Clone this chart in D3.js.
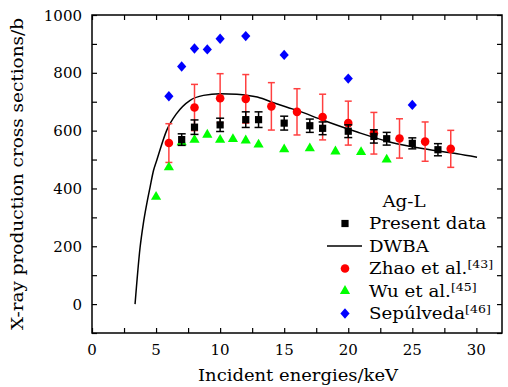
<!DOCTYPE html>
<html lang="en">
<head>
  <meta charset="UTF-8">
  <title>Ag-L X-ray production cross sections</title>
  <script src="https://cdn.jsdelivr.net/npm/d3@7/dist/d3.min.js"></script>
  <style>
    body { margin: 0; background: #fff; }
    text { font-family: "DejaVu Serif", serif; fill: #000; }
  </style>
</head>
<body>
<div id="chart"></div>
<script>
  // present data
  const presentE = [7, 8, 10, 12, 13, 15, 17, 18, 20, 22, 23, 25, 27];
  const presentSigma = [569, 612, 620, 638, 638, 626, 617, 608, 598, 580, 572, 556, 534];
  const presentErr = [20, 25, 23, 27, 27, 24, 23, 22, 22, 23, 22, 19, 21];

  // Zhao et al.
  const zhaoE = [6, 8, 10, 12, 14, 16, 18, 20, 22, 24, 26, 28];
  const zhaoSigma = [557, 680, 712, 710, 684, 665, 647, 626, 591, 573, 562, 537];
  const zhaoErr = [67, 80, 85, 84, 82, 80, 79, 76, 72, 68, 68, 64];

  // Wu et al.
  const wuE = [5, 6, 7, 8, 9, 10, 11, 12, 13, 15, 17, 19, 21, 23];
  const wuSigma = [371, 473, 560, 568, 586, 568, 571, 566, 552, 535, 539, 528, 526, 500];

  // Sepúlveda
  const sepE = [6, 7, 8, 9, 10, 12, 15, 20, 25];
  const sepSigma = [719, 822, 884, 881, 918, 927, 862, 780, 689];

  // DWBA theory curve
  const dwbaE = [3.36, 3.75, 4.0, 4.27, 4.53, 4.8, 5.05, 5.83, 6.6, 7.66, 8.7, 10, 11.3, 12.9, 14.4, 16, 18.1, 20.7, 23.3, 25.9, 28.5, 30.05];
  const dwbaSigma = [0, 195, 277, 346, 404, 462, 497, 601, 659, 705, 722, 728, 726, 716, 693, 670, 635, 595, 560, 537, 520, 508];

  const xTicks = [0, 5, 10, 15, 20, 25, 30];
  const yTicks = [0, 200, 400, 600, 800, 1000];

  const W = 508, H = 387;
  const m = { left: 92, right: 6, top: 15, bottom: 54 };

  const svg = d3.select('#chart').append('svg')
    .attr('width', W).attr('height', H);

  const x = d3.scaleLinear().domain([0, 32]).range([m.left, W - m.right]);
  const y = d3.scaleLinear().domain([-100, 1000]).range([H - m.bottom, m.top]);

  const zip = (a, b, c) => a.map((v, i) => ({ e: v, s: b[i], err: c ? c[i] : 0 }));

  // axes, ticks pointing inward
  const tickLen = 5;
  const gx = svg.append('g').attr('transform', `translate(0,${y(-100)})`)
    .call(d3.axisBottom(x).tickValues(d3.range(0, 32.1, 2.5)).tickSizeInner(-tickLen).tickSizeOuter(0).tickFormat(''));
  const gxTop = svg.append('g').attr('transform', `translate(0,${y(1000)})`)
    .call(d3.axisTop(x).tickValues(d3.range(0, 32.1, 2.5)).tickSizeInner(-tickLen).tickSizeOuter(0).tickFormat(''));
  const gy = svg.append('g').attr('transform', `translate(${x(0)},0)`)
    .call(d3.axisLeft(y).tickValues(d3.range(-100, 1001, 100)).tickSizeInner(-tickLen).tickSizeOuter(0).tickFormat(''));
  const gyR = svg.append('g').attr('transform', `translate(${x(32)},0)`)
    .call(d3.axisRight(y).tickValues(d3.range(-100, 1001, 100)).tickSizeInner(-tickLen).tickSizeOuter(0).tickFormat(''));
  [gx, gxTop, gy, gyR].forEach(g => {
    g.select('.domain').remove();
    g.selectAll('line').attr('stroke', '#000').attr('stroke-width', 1.2);
  });

  // frame
  svg.append('rect')
    .attr('x', x(0)).attr('y', y(1000))
    .attr('width', x(32) - x(0)).attr('height', y(-100) - y(1000))
    .attr('fill', 'none').attr('stroke', '#000').attr('stroke-width', 1.5);

  // tick labels
  svg.append('g').selectAll('text').data(xTicks).join('text')
    .attr('x', d => x(d)).attr('y', y(-100) + 22)
    .attr('text-anchor', 'middle').attr('font-size', 15)
    .text(d => d);
  svg.append('g').selectAll('text').data(yTicks).join('text')
    .attr('x', x(0) - 10).attr('y', d => y(d) + 5.5)
    .attr('text-anchor', 'end').attr('font-size', 15)
    .text(d => d);

  // axis titles
  svg.append('text')
    .attr('x', (x(0) + x(32)) / 2 + 1).attr('y', 381)
    .attr('text-anchor', 'middle').attr('font-size', 16)
    .attr('textLength', 200).attr('lengthAdjust', 'spacingAndGlyphs')
    .text('Incident energies/keV');
  svg.append('text')
    .attr('transform', `translate(23,${(y(-100) + y(1000)) / 2}) rotate(-90)`)
    .attr('text-anchor', 'middle').attr('font-size', 16)
    .attr('textLength', 312).attr('lengthAdjust', 'spacingAndGlyphs')
    .text('X-ray production cross sections/b');

  // DWBA curve
  const line = d3.line().x(d => x(d.e)).y(d => y(d.s)).curve(d3.curveMonotoneX);
  svg.append('path')
    .datum(zip(dwbaE, dwbaSigma))
    .attr('d', line)
    .attr('fill', 'none').attr('stroke', '#000').attr('stroke-width', 1.5);

  // error bars helper
  const errorBars = (data, color, cap) => {
    const g = svg.append('g').attr('stroke', color).attr('stroke-width', 1.5);
    g.selectAll('.v').data(data).join('line')
      .attr('x1', d => x(d.e)).attr('x2', d => x(d.e))
      .attr('y1', d => y(d.s - d.err)).attr('y2', d => y(d.s + d.err));
    g.selectAll('.t').data(data).join('line')
      .attr('x1', d => x(d.e) - cap).attr('x2', d => x(d.e) + cap)
      .attr('y1', d => y(d.s + d.err)).attr('y2', d => y(d.s + d.err));
    g.selectAll('.b').data(data).join('line')
      .attr('x1', d => x(d.e) - cap).attr('x2', d => x(d.e) + cap)
      .attr('y1', d => y(d.s - d.err)).attr('y2', d => y(d.s - d.err));
  };

  const sym = (type, size) => d3.symbol().type(type).size(size)();
  const diamond = 'M0,-5.2L4.6,0L0,5.2L-4.6,0Z';

  // Zhao
  const zhao = zip(zhaoE, zhaoSigma, zhaoErr);
  errorBars(zhao, '#ff4040', 3.5);
  svg.append('g').selectAll('circle').data(zhao).join('circle')
    .attr('cx', d => x(d.e)).attr('cy', d => y(d.s)).attr('r', 4.3)
    .attr('fill', '#ff0000');

  // Wu
  svg.append('g').selectAll('path').data(zip(wuE, wuSigma)).join('path')
    .attr('transform', d => `translate(${x(d.e)},${y(d.s)})`)
    .attr('d', sym(d3.symbolTriangle, 45))
    .attr('fill', '#00ff00');

  // Sepúlveda
  svg.append('g').selectAll('path').data(zip(sepE, sepSigma)).join('path')
    .attr('transform', d => `translate(${x(d.e)},${y(d.s)})`)
    .attr('d', diamond)
    .attr('fill', '#0000ff');

  // present data
  const present = zip(presentE, presentSigma, presentErr);
  errorBars(present, '#000', 4);
  svg.append('g').selectAll('rect').data(present).join('rect')
    .attr('x', d => x(d.e) - 3.6).attr('y', d => y(d.s) - 3.6)
    .attr('width', 7.2).attr('height', 7.2)
    .attr('fill', '#000');

  // legend (text stretched a bit to match the wide serif of the original)
  const lg = svg.append('g');
  const lx = 345, tx = 369, ly0 = 201, dy = 22.5, sx = 1.14;
  lg.append('text').attr('transform', `translate(404,${ly0 + 5.5}) scale(${sx},1)`)
    .attr('text-anchor', 'middle').attr('font-size', 16).text('Ag-L');
  const entries = [
    { name: 'Present data', sup: '' },
    { name: 'DWBA', sup: '' },
    { name: 'Zhao et al.', sup: '[43]' },
    { name: 'Wu et al.', sup: '[45]' },
    { name: 'Sepúlveda', sup: '[46]' }
  ];
  const ly = i => ly0 + dy * (i + 1);
  entries.forEach((en, i) => {
    const t = lg.append('text')
      .attr('transform', `translate(${tx},${ly(i) + 5.5}) scale(${sx},1)`)
      .attr('font-size', 16);
    t.append('tspan').text(en.name);
    if (en.sup) t.append('tspan').attr('font-size', 11).attr('dy', -6).text(en.sup);
  });
  lg.append('rect').attr('x', lx - 3.6).attr('y', ly(0) - 3.6).attr('width', 7.2).attr('height', 7.2).attr('fill', '#000');
  lg.append('line').attr('x1', 327).attr('x2', 362).attr('y1', ly(1)).attr('y2', ly(1))
    .attr('stroke', '#000').attr('stroke-width', 1.5);
  lg.append('circle').attr('cx', lx).attr('cy', ly(2)).attr('r', 4.3).attr('fill', '#ff0000');
  lg.append('path').attr('transform', `translate(${lx},${ly(3)})`).attr('d', sym(d3.symbolTriangle, 45)).attr('fill', '#00ff00');
  lg.append('path').attr('transform', `translate(${lx},${ly(4)})`).attr('d', diamond).attr('fill', '#0000ff');
</script>
</body>
</html>
